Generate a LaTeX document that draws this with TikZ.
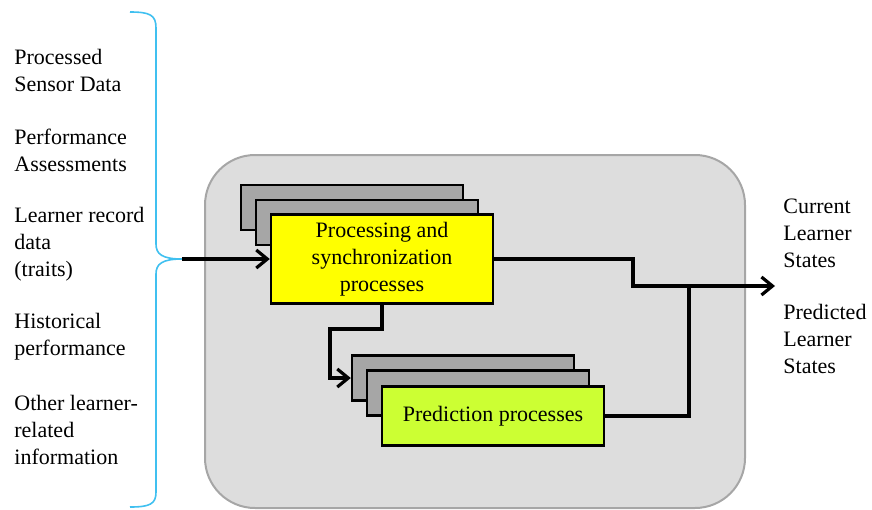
\documentclass[tikz,border=0pt]{standalone}
\usepackage{fontspec}
\setmainfont{Liberation Serif}
\usetikzlibrary{arrows.meta, positioning, calc}
\definecolor{panelgray}{RGB}{221,221,221}
\definecolor{panelline}{RGB}{166,166,166}
\definecolor{stackgray}{RGB}{166,166,166}
\definecolor{procyellow}{RGB}{255,255,0}
\definecolor{predgreen}{RGB}{204,255,51}
\definecolor{bracecol}{RGB}{64,192,240}
\tikzset{
    textfont/.style={font=\fontsize{11}{13.5}\selectfont},
    inlabel/.style={textfont, align=left, anchor=west, inner sep=0pt},
    outlabel/.style={textfont, align=left, anchor=west, inner sep=0pt},
    stackbox/.style={draw=black, line width=1.2pt, fill=stackgray, inner sep=0pt,
        minimum width=111pt, minimum height=22.5pt},
    procbox/.style={stackbox, textfont, align=center, fill=procyellow,
        minimum height=44.5pt},
    predbox/.style={stackbox, textfont, align=center, fill=predgreen,
        minimum height=29.5pt},
    link/.style={draw=black, line width=1.6pt},
    flow/.style={link, -{Straight Barb[length=5.5pt, width=9pt, line width=1.6pt]}},
}

\begin{document}
\begin{tikzpicture}[x=0.5pt, y=-0.5pt]
    \useasboundingbox (0,0) rectangle (872,509);
    \clip (0,0) rectangle (872,509);

    % panel
    \draw[fill=panelgray, draw=panelline, line width=1pt, rounded corners=25pt]
        (205,155) rectangle (745,508);

    % inputs
    \node[inlabel] (sensor) at (14,70) {Processed\\Sensor Data};
    \node[inlabel] (assess) at (14,150) {Performance\\Assessments};
    \node[inlabel] (record) at (14,244) {Learner record\\data\\(traits)};
    \node[inlabel] (history) at (14,337) {Historical\\performance};
    \node[inlabel] (other) at (14,430) {Other learner-\\related\\information};

    % brace
    \coordinate (tip) at (182,259);
    \draw[bracecol, line width=0.8pt]
        (130,12) .. controls (150,12) and (156,15) .. (156,28)
        -- (156,244) .. controls (156,254) and (162,259) .. (tip)
        .. controls (162,259) and (156,264) .. (156,274)
        -- (156,492) .. controls (156,504) and (150,507) .. (130,507);

    % processing stack
    \node[stackbox] (procback) at (352,207.5) {};
    \node[stackbox] (procmid) at (367,222.5) {};
    \node[procbox] (proc) at (382,259) {Processing and\\synchronization\\processes};

    % prediction stack
    \node[stackbox] (predback) at (463,378) {};
    \node[stackbox] (predmid) at (478,393) {};
    \node[predbox] (pred) at (493,416) {Prediction processes};

    % outputs
    \node[outlabel] (current) at (783,233) {Current\\Learner\\States};
    \node[outlabel] (predicted) at (783,339) {Predicted\\Learner\\States};

    % connectors
    \coordinate (merge) at (689,286);
    \coordinate (out) at (775,286);
    \draw[flow] (tip) -- (proc.west);
    \draw[flow] (proc.south) -- (382,329) -- (330,329) |- (predback.west);
    \draw[flow] (proc.east) -- (633,259) |- (out);
    \draw[link] (pred.east) -| (merge);
\end{tikzpicture}
\end{document}
